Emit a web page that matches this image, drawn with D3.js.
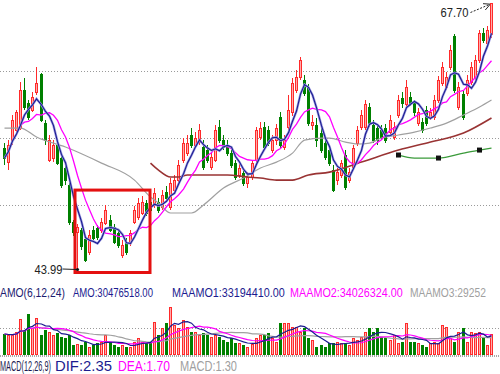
<!DOCTYPE html>
<html>
<head>
<meta charset="utf-8">
<script src="https://cdn.jsdelivr.net/npm/d3@7"></script>
<style>
  body { margin: 0; background: #fff; }
  svg { display: block; }
</style>
</head>
<body>
<div id="chart"></div>
<script>
// daily bars: [open, high, low, close]
const ohlc = [
  [54.84,55.28,53.33,53.95],[53.59,55.55,52.88,55.11],[55.55,57.78,55.11,57.33],[56.44,58.22,56.17,57.96],
  [56.62,60.71,56.44,60.00],[60.00,61.07,58.22,58.49],[58.84,59.11,57.33,57.60],[58.22,59.82,58.04,59.38],
  [59.82,62.05,59.56,60.62],[61.34,61.51,57.15,57.33],[57.06,57.33,55.11,55.55],[53.77,56.00,53.59,55.55],
  [53.95,55.55,53.59,55.11],[55.11,55.55,53.33,53.50],[53.95,54.22,51.28,51.55],[53.06,53.33,51.55,51.99],
  [51.55,51.72,47.99,48.26],[48.26,48.43,47.01,47.37],[47.37,48.08,43.99,47.81],[47.54,47.72,45.77,46.04],
  [46.66,47.01,44.69,44.87],[45.59,47.54,45.32,47.10],[47.54,47.90,46.66,46.83],[47.72,47.99,46.66,46.92],
  [47.54,48.61,47.28,48.26],[48.17,49.77,47.99,49.32],[48.43,48.88,47.37,47.54],[47.81,48.08,46.30,46.48],
  [47.28,47.54,45.95,46.21],[45.32,46.66,45.05,46.21],[46.48,46.83,45.32,45.59],[46.39,47.54,46.12,47.28],
  [48.26,49.68,48.08,49.32],[48.70,50.39,48.43,49.95],[49.06,50.57,48.88,50.03],[49.95,50.21,48.79,49.06],
  [50.03,50.39,49.15,49.32],[49.77,51.28,49.50,50.84],[50.03,50.39,49.06,49.32],[49.59,51.10,49.32,50.66],
  [50.92,51.46,50.03,50.39],[49.59,52.17,49.32,51.72],[51.10,52.44,50.84,51.99],[51.99,53.77,51.72,53.33],
  [53.77,55.73,53.50,55.28],[54.39,56.00,54.13,55.28],[56.00,56.62,54.84,55.11],[55.11,56.26,54.84,55.73],
  [55.37,56.98,55.11,56.44],[54.93,55.55,52.88,53.15],[54.66,55.11,53.50,53.77],[53.15,54.48,52.88,54.04],
  [53.77,56.89,53.59,56.44],[56.71,57.33,55.28,55.55],[55.55,56.00,54.66,54.93],[55.11,55.55,54.13,54.39],
  [54.39,54.66,53.06,53.33],[53.50,53.77,51.99,52.26],[52.44,53.50,52.17,53.06],[52.61,52.88,51.46,51.72],
  [51.72,52.70,51.28,52.26],[52.26,53.77,51.99,53.50],[53.77,56.71,53.50,56.44],[55.82,57.15,55.55,56.62],
  [56.71,57.15,54.66,54.93],[56.44,56.80,55.02,55.28],[54.66,56.00,54.39,55.55],[55.55,56.98,55.11,56.62],
  [57.60,58.04,54.84,55.11],[54.93,56.00,54.66,55.55],[56.71,59.56,56.44,58.22],[57.96,61.07,57.69,60.62],
  [60.00,61.78,59.73,61.16],[61.16,62.94,60.89,62.67],[60.89,61.34,59.47,59.73],[60.27,60.54,56.80,57.06],
  [56.89,57.78,56.44,57.15],[56.89,57.51,54.93,55.55],[56.17,56.62,54.39,54.66],[55.28,55.55,53.77,54.04],
  [54.66,54.93,53.24,53.50],[52.88,53.33,50.92,51.10],[51.99,53.06,51.55,52.70],[52.44,53.77,52.17,53.50],
  [54.22,54.66,51.10,51.37],[51.99,53.06,51.72,52.70],[53.15,55.11,52.88,54.84],[55.28,56.80,55.02,56.44],
  [56.71,58.22,56.44,57.78],[56.71,59.11,56.44,58.67],[58.49,58.84,56.71,57.06],[56.89,57.33,55.28,55.55],
  [56.62,56.89,55.11,55.55],[56.44,56.89,55.55,55.82],[56.62,56.98,55.28,55.55],[56.26,57.78,56.00,57.33],
  [55.82,57.15,55.55,56.71],[57.78,59.56,57.51,59.11],[59.29,59.82,58.40,58.76],[58.67,60.89,58.40,60.27],
  [59.38,59.82,58.58,58.84],[58.84,59.11,57.69,57.96],[57.06,58.40,56.80,57.96],[57.15,57.51,56.17,56.44],
  [58.22,58.58,56.80,57.06],[57.60,58.40,57.33,57.96],[57.60,59.56,57.33,59.11],[59.11,61.25,58.84,60.89],
  [60.62,62.49,60.36,62.05],[60.27,61.60,60.00,61.16],[62.05,64.00,61.78,63.56],[64.72,64.99,59.73,60.00],
  [58.49,60.71,58.22,60.27],[59.56,60.00,57.33,57.60],[59.73,61.34,59.47,60.89],[60.71,62.49,60.45,62.05],
  [61.16,63.12,60.89,62.67],[62.67,65.34,62.41,65.07],[65.07,65.52,64.18,64.45],[64.18,65.70,63.92,65.34],
  [64.90,67.70,64.63,67.70]
];

// turnover (AMO), millions
const amo = [
  32.0,30.4,30.4,35.2,56.0,38.4,64.0,41.6,57.6,30.4,38.4,35.2,30.4,33.6,27.2,25.6,30.4,14.4,16.0,14.4,
  19.2,11.2,14.4,17.6,19.2,30.4,19.2,14.4,11.2,14.4,11.2,11.2,19.2,25.6,19.2,17.6,19.2,51.2,30.4,41.6,
  49.6,75.2,46.4,41.6,54.4,43.2,35.2,35.2,30.4,33.6,30.4,27.2,30.4,27.2,22.4,19.2,25.6,17.6,17.6,14.4,
  11.2,16.0,25.6,30.4,30.4,33.6,25.6,19.2,49.6,49.6,49.6,43.2,43.2,35.2,41.6,25.6,22.4,11.2,14.4,11.2,
  17.6,17.6,19.2,17.6,17.6,14.4,25.6,22.4,27.2,35.2,41.6,35.2,41.6,27.2,25.6,22.4,30.4,17.6,19.2,49.6,
  19.2,19.2,17.6,14.4,11.2,17.6,19.2,17.6,46.4,43.2,25.6,19.2,35.2,41.6,19.2,35.2,33.6,35.2,25.6,14.4,
  30.48
];

// slow averages: [bar index, price]
const ma30 = [[0,56.62],[4,56.62],[8,55.82],[15,54.93],[24,53.50],[32,51.99],[36,50.48],[38,49.95],
  [41,49.06],[46,49.06],[49,49.77],[54,51.28],[59,52.17],[63,53.06],[67,53.59],[71,54.39],[74,55.55],
  [78,55.73],[80,55.73],[84,55.37],[87,55.20],[90,55.28],[93,55.73],[97,56.00],[101,56.26],[105,56.62],
  [109,57.06],[113,57.78],[117,58.49],[120,59.11]];
const ma60 = [[36,53.50],[38,52.88],[41,52.26],[43,52.26],[45,52.44],[55,52.44],[60,52.26],[63,52.17],
  [67,51.99],[71,51.99],[75,52.44],[80,52.70],[88,53.59],[97,54.66],[105,55.37],[113,56.17],[120,57.51]];
const ma120 = [[97,54.22],[101,53.95],[107,53.95],[113,54.39],[117,54.66],[120,54.84]];
const ma120Marks = [97, 107, 117];

const lowMark = 43.99, highMark = 67.70;
const boxFrom = 18, boxTo = 36, boxTop = 51.1;

const amoLabels = ['AMO(6,12,24)', 'AMO:30476518.00', 'MAAMO1:33194410.00', 'MAAMO2:34026324.00', 'MAAMO3:29252'];
const macdLabels = ['MACD(12,26,9)', 'DIF:2.35', 'DEA:1.70', 'MACD:1.30'];

let width = 500, height = 374;

let svg = d3.select('#chart')
  .append('svg')
  .attr('width', width)
  .attr('height', height)
  .style('font-family', 'Liberation Sans, Arial, sans-serif');

let idx = d3.range(ohlc.length);

let xscale = d3.scaleBand()
  .domain(idx)
  .range([3, 493])
  .paddingInner(0.25);
let bw = 3;
let bx = i => Math.round(xscale(i));
let xc = i => bx(i) + 1.5;

let yscale = d3.scaleLinear()
  .domain([lowMark, highMark])
  .range([270, 3.5]);

let vscale = d3.scaleLinear()
  .domain([0, 80])
  .range([354, 304]);

const up = d => d[3] >= d[0];
const red = '#ff2a2a', pink = '#ffaaaa', green = '#008000';

// grid
let priceTop = 4, priceBottom = 272;
svg.append('g')
  .selectAll('line')
  .data([1, 2, 3])
  .join('line')
  .attr('x1', 0).attr('x2', width)
  .attr('y1', k => Math.round(priceTop + (priceBottom - priceTop) * k / 4) + 0.5)
  .attr('y2', k => Math.round(priceTop + (priceBottom - priceTop) * k / 4) + 0.5)
  .attr('stroke', '#9a9a9a')
  .attr('stroke-dasharray', '1,2');

svg.append('line')
  .attr('x1', 0).attr('x2', width)
  .attr('y1', Math.round((vscale.range()[0] + vscale.range()[1]) / 2) - 0.5)
  .attr('y2', Math.round((vscale.range()[0] + vscale.range()[1]) / 2) - 0.5)
  .attr('stroke', '#9a9a9a')
  .attr('stroke-dasharray', '1,2');

svg.append('line')
  .attr('x1', 0).attr('x2', width)
  .attr('y1', 356).attr('y2', 356)
  .attr('stroke', '#a8a8a8')
  .attr('stroke-width', 2)
  .attr('stroke-dasharray', '1,1');

// candles
let candles = svg.append('g').attr('shape-rendering', 'crispEdges');

candles.selectAll('line')
  .data(ohlc)
  .join('line')
  .attr('x1', (d, i) => xc(i)).attr('x2', (d, i) => xc(i))
  .attr('y1', d => yscale(d[1])).attr('y2', d => yscale(d[2]))
  .attr('stroke', d => up(d) ? red : green);

candles.selectAll('rect')
  .data(ohlc)
  .join('rect')
  .attr('x', (d, i) => bx(i) + 0.5)
  .attr('y', d => yscale(Math.max(d[0], d[3])))
  .attr('width', bw - 1)
  .attr('height', d => Math.max(1, Math.abs(yscale(d[0]) - yscale(d[3]))))
  .attr('fill', d => up(d) ? pink : green)
  .attr('stroke', d => up(d) ? red : green);

// moving averages
const closes = ohlc.map(d => d[3]);
function movingAvg(values, n) {
  return values.map((v, i) => d3.mean(values.slice(Math.max(0, i - n + 1), i + 1)));
}

let avgLine = d3.line()
  .x((d, i) => xc(i))
  .y(d => yscale(d));

let pairLine = d3.line()
  .x(d => xc(d[0]))
  .y(d => yscale(d[1]))
  .curve(d3.curveMonotoneX);

svg.append('path')
  .datum(ma30)
  .attr('fill', 'none')
  .attr('stroke', '#a0a0a0')
  .attr('stroke-width', 1.2)
  .attr('d', pairLine);

svg.append('path')
  .datum(ma60)
  .attr('fill', 'none')
  .attr('stroke', '#993333')
  .attr('stroke-width', 1.6)
  .attr('d', pairLine);

svg.append('path')
  .datum(ma120)
  .attr('fill', 'none')
  .attr('stroke', '#3a9a3a')
  .attr('stroke-width', 1.3)
  .attr('d', pairLine);

svg.append('g')
  .selectAll('rect')
  .data(ma120.filter(d => ma120Marks.includes(d[0])))
  .join('rect')
  .attr('x', d => xc(d[0]) - 2.5)
  .attr('y', d => yscale(d[1]) - 2.5)
  .attr('width', 5).attr('height', 5)
  .attr('fill', '#111');

svg.append('path')
  .datum(movingAvg(closes, 10))
  .attr('fill', 'none')
  .attr('stroke', '#ff00ff')
  .attr('stroke-width', 1.3)
  .attr('d', avgLine);

svg.append('path')
  .datum(movingAvg(closes, 5))
  .attr('fill', 'none')
  .attr('stroke', '#9a9ae0')
  .attr('stroke-width', 2.4)
  .attr('d', avgLine);

svg.append('path')
  .datum(movingAvg(closes, 5))
  .attr('fill', 'none')
  .attr('stroke', '#1c1c90')
  .attr('stroke-width', 1.1)
  .attr('d', avgLine);

// volume
let vol = svg.append('g').attr('shape-rendering', 'crispEdges');
vol.selectAll('rect')
  .data(amo)
  .join('rect')
  .attr('x', (d, i) => bx(i) + 0.5)
  .attr('y', d => vscale(d))
  .attr('width', bw - 1)
  .attr('height', d => vscale(0) - vscale(d))
  .attr('fill', (d, i) => up(ohlc[i]) ? pink : green)
  .attr('stroke', (d, i) => up(ohlc[i]) ? red : green);

let volLine = d3.line()
  .x((d, i) => xc(i))
  .y(d => vscale(d));

[[24, '#a0a0a0'], [12, '#ff00ff'], [6, '#1c1c90']].forEach(function(m) {
  svg.append('path')
    .datum(movingAvg(amo, m[0]))
    .attr('fill', 'none')
    .attr('stroke', m[1])
    .attr('stroke-width', 1.2)
    .attr('d', volLine);
});

// red box
let lowIdx = ohlc.findIndex(d => d[2] === lowMark);
let highIdx = ohlc.findIndex(d => d[1] === highMark);

svg.append('rect')
  .attr('x', bx(boxFrom) - 1)
  .attr('y', yscale(boxTop))
  .attr('width', bx(boxTo) - bx(boxFrom) + 2)
  .attr('height', yscale(lowMark) + 2.5 - yscale(boxTop))
  .attr('fill', 'none')
  .attr('stroke', '#e41010')
  .attr('stroke-width', 3);

// squeeze a caption horizontally so it spans exactly w pixels
function fit(sel, pos, y) {
  sel.each(function(d, i) {
    let w = this.getComputedTextLength();
    d3.select(this)
      .attr('transform', `translate(${pos[i][0]},${y}) scale(${pos[i][1] / w},1)`);
  });
}

// low / high marks
let lx = xc(lowIdx), ly = yscale(lowMark);
svg.append('line')
  .attr('x1', lx - 15).attr('x2', lx - 1)
  .attr('y1', ly - 1).attr('y2', ly - 0.5)
  .attr('stroke', '#222');
svg.append('circle')
  .attr('cx', lx).attr('cy', ly - 0.5).attr('r', 1.6)
  .attr('fill', '#111');
svg.append('text')
  .attr('font-size', 13)
  .attr('fill', '#222')
  .text(lowMark.toFixed(2))
  .call(fit, [[lx - 43, 28]], ly + 3.5);

let hx = xc(highIdx), hy = yscale(highMark);
svg.append('defs').append('marker')
  .attr('id', 'arr')
  .attr('viewBox', '0 0 8 8')
  .attr('refX', 7).attr('refY', 4)
  .attr('markerWidth', 7).attr('markerHeight', 7)
  .attr('orient', 'auto')
  .append('path')
  .attr('d', 'M0,0 L8,4 L0,8')
  .attr('fill', 'none')
  .attr('stroke', '#222');
svg.append('line')
  .attr('x1', hx - 21).attr('y1', hy + 9)
  .attr('x2', hx - 2).attr('y2', hy + 1)
  .attr('stroke', '#222')
  .attr('stroke-dasharray', '2,1.5')
  .attr('marker-end', 'url(#arr)');
svg.append('text')
  .attr('font-size', 13)
  .attr('fill', '#222')
  .text(highMark.toFixed(2))
  .call(fit, [[hx - 51, 28]], hy + 13.5);

// indicator captions
const amoPos = [[0, 65], [73, 80], [172, 113], [290, 113], [410, 76]];
const amoCol = ['#1c1c70', '#1c1c90', '#1c1c90', '#ff00ff', '#a0a0a0'];
svg.append('g')
  .selectAll('text')
  .data(amoLabels)
  .join('text')
  .attr('font-size', 12)
  .attr('fill', (d, i) => amoCol[i])
  .text(d => d)
  .call(fit, amoPos, 297);

const macdPos = [[0, 51], [55, 57], [118, 52], [180, 57]];
const macdCol = ['#1c1c50', '#1c1c90', '#ff00ff', '#a0a0a0'];
svg.append('g')
  .selectAll('text')
  .data(macdLabels)
  .join('text')
  .attr('font-size', 14)
  .attr('fill', (d, i) => macdCol[i])
  .text(d => d)
  .call(fit, macdPos, 371);
</script>
</body>
</html>
